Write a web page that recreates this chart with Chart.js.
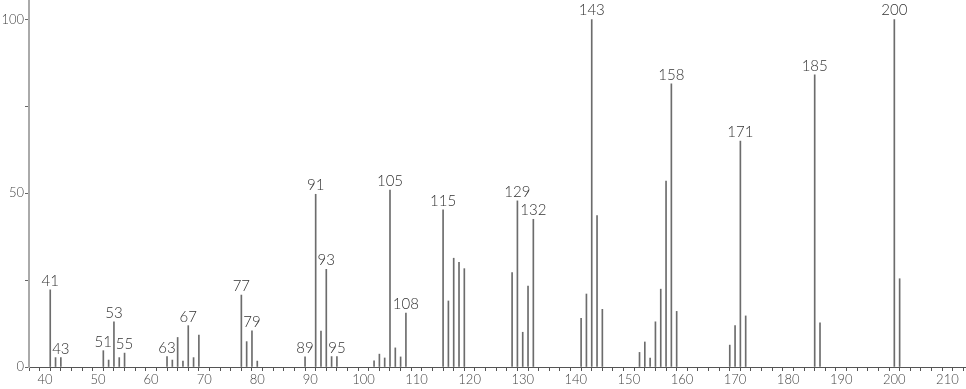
<!DOCTYPE html>
<html>
<head>
<meta charset="utf-8">
<script src="https://cdn.jsdelivr.net/npm/chart.js@4.4.0/dist/chart.umd.min.js"></script>
<style>
  html, body { margin: 0; padding: 0; background: #ffffff; }
  #wrap { position: relative; width: 966px; height: 389px; }
</style>
</head>
<body>
<div id="wrap"><canvas id="c"></canvas></div>
<script>
// m/z values of the peaks
const mz = [41,42,43,51,52,53,54,55,63,64,65,66,67,68,69,77,78,79,80,89,91,92,93,94,95,
  102,103,104,105,106,107,108,115,116,117,118,119,128,129,130,131,132,141,142,143,144,145,
  152,153,154,155,156,157,158,159,169,170,171,172,185,186,200,201];
// relative intensities
const intensity = [22.2,2.7,2.7,4.7,2,13,2.7,4,3,2,8.5,1.7,11.9,2.7,9.2,20.7,7.3,10.4,1.7,2.9,
  49.7,10.3,28.1,3,3,1.8,3.7,2.6,50.9,5.5,2.9,15.5,45.2,19,31.3,30.1,28.3,27.2,47.8,10,23.3,42.5,
  14,21,100,43.6,16.6,4.2,7.2,2.6,13,22.4,53.5,81.5,16,6.3,11.9,65,14.7,84.1,12.7,100,25.4];
// peaks that carry a label
const labeledMz = [41,43,51,53,55,63,67,77,79,89,91,93,95,105,108,115,129,132,143,158,171,185,200];
// axis ticks
const xTicks = [];
for (let v = 38; v <= 212; v += 2) xTicks.push(v);
const xLabelEvery = 10;
const yTicks = [0, 25, 50, 75, 100];
const yLabels = [0, 50, 100];

const points = mz.map((m, i) => ({ x: m, y: intensity[i] }));

const peakLabels = {
  id: 'peakLabels',
  afterDatasetsDraw(chart) {
    const xs = chart.scales.x, ys = chart.scales.y, ctx = chart.ctx;
    ctx.save();
    ctx.font = '300 15px Lato, "Liberation Sans", sans-serif';
    ctx.fillStyle = '#333';
    ctx.textAlign = 'center';
    ctx.textBaseline = 'alphabetic';
    labeledMz.forEach(m => {
      const i = mz.indexOf(m);
      if (i < 0) return;
      const px = xs.getPixelForValue(m);
      const py = ys.getPixelForValue(intensity[i]);
      ctx.fillText(String(m), px, py - 4);
    });
    ctx.restore();
  }
};

new Chart(document.getElementById('c'), {
  type: 'bar',
  data: {
    datasets: [{
      data: points,
      backgroundColor: '#6c6c6c',
      borderWidth: 0,
      barThickness: 1,
      grouped: false
    }]
  },
  options: {
    responsive: true,
    maintainAspectRatio: false,
    animation: false,
    layout: { padding: 0 },
    plugins: { legend: { display: false }, tooltip: { enabled: false } },
    scales: {
      x: {
        type: 'linear',
        min: 37,
        max: 213.5,
        offset: false,
        grid: { display: true, drawOnChartArea: false, drawTicks: true, tickLength: 4, color: '#555' },
        border: { display: true, color: '#555', width: 1 },
        afterBuildTicks: s => { s.ticks = xTicks.map(v => ({ value: v })); },
        afterFit: s => { s.height = 22; s.paddingLeft = 0; s.paddingRight = 0; },
        ticks: {
          autoSkip: false,
          maxRotation: 0,
          padding: 1,
          color: '#444',
          font: { family: 'Lato, "Liberation Sans", sans-serif', size: 13, weight: '300' },
          callback: v => (v % xLabelEvery === 0 ? String(v) : '')
        }
      },
      y: {
        min: 0,
        max: 105.6,
        grid: { display: true, drawOnChartArea: false, drawTicks: true, tickLength: 4, color: '#666' },
        border: { display: true, color: '#aaa', width: 2 },
        afterBuildTicks: s => { s.ticks = yTicks.map(v => ({ value: v })); },
        afterFit: s => { s.width = 29; s.paddingTop = 0; s.paddingBottom = 0; },
        ticks: {
          autoSkip: false,
          padding: 1,
          color: '#444',
          font: { family: 'Lato, "Liberation Sans", sans-serif', size: 13, weight: '300' },
          callback: v => (yLabels.includes(v) ? String(v) : '')
        }
      }
    }
  },
  plugins: [peakLabels]
});
</script>
</body>
</html>
